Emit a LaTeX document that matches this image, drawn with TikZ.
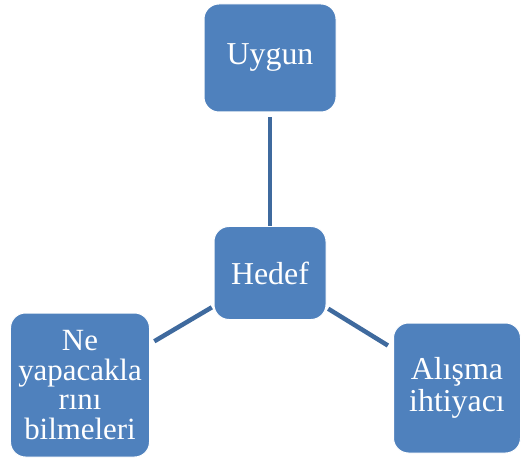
\documentclass[tikz,border=0pt]{standalone}
\usepackage{fontspec}
\setmainfont{Liberation Serif}
\usepackage{tikz}
\usetikzlibrary{positioning, calc}
\definecolor{boxblue}{RGB}{79, 129, 189}
\definecolor{linkblue}{RGB}{63, 106, 158}

\begin{document}
\begin{tikzpicture}[
    x=1bp, y=-1bp,
    box/.style={fill=boxblue, draw=white, line width=1bp, rounded corners=15bp, align=center, text=white, inner sep=0pt, font=\fontsize{32}{32}\selectfont},
    link/.style={draw=linkblue, line width=4.5bp}
]
    \useasboundingbox (0,0) rectangle (523,459);
    \node[box, minimum width=112bp, minimum height=93bp] (hedef) at (270,273) {Hedef};
    \node[box, minimum width=132bp, minimum height=108bp] (uygun) at (270,58) {Uygun};
    \node[box, minimum width=139bp, minimum height=144bp, font=\fontsize{31}{29.5}\selectfont] (ne) at (80,385) {Ne\\yapacakla\\rını\\bilmeleri};
    \node[box, minimum width=127bp, minimum height=130bp] (alisma) at (457,388) {Alışma\\ihtiyacı};

    \draw[link, shorten <=5bp] (uygun) -- (hedef);
    \draw[link, shorten <=2bp, shorten >=5bp] (hedef) -- (ne);
    \draw[link, shorten <=2bp, shorten >=6bp] (hedef) -- (alisma);
\end{tikzpicture}
\end{document}
